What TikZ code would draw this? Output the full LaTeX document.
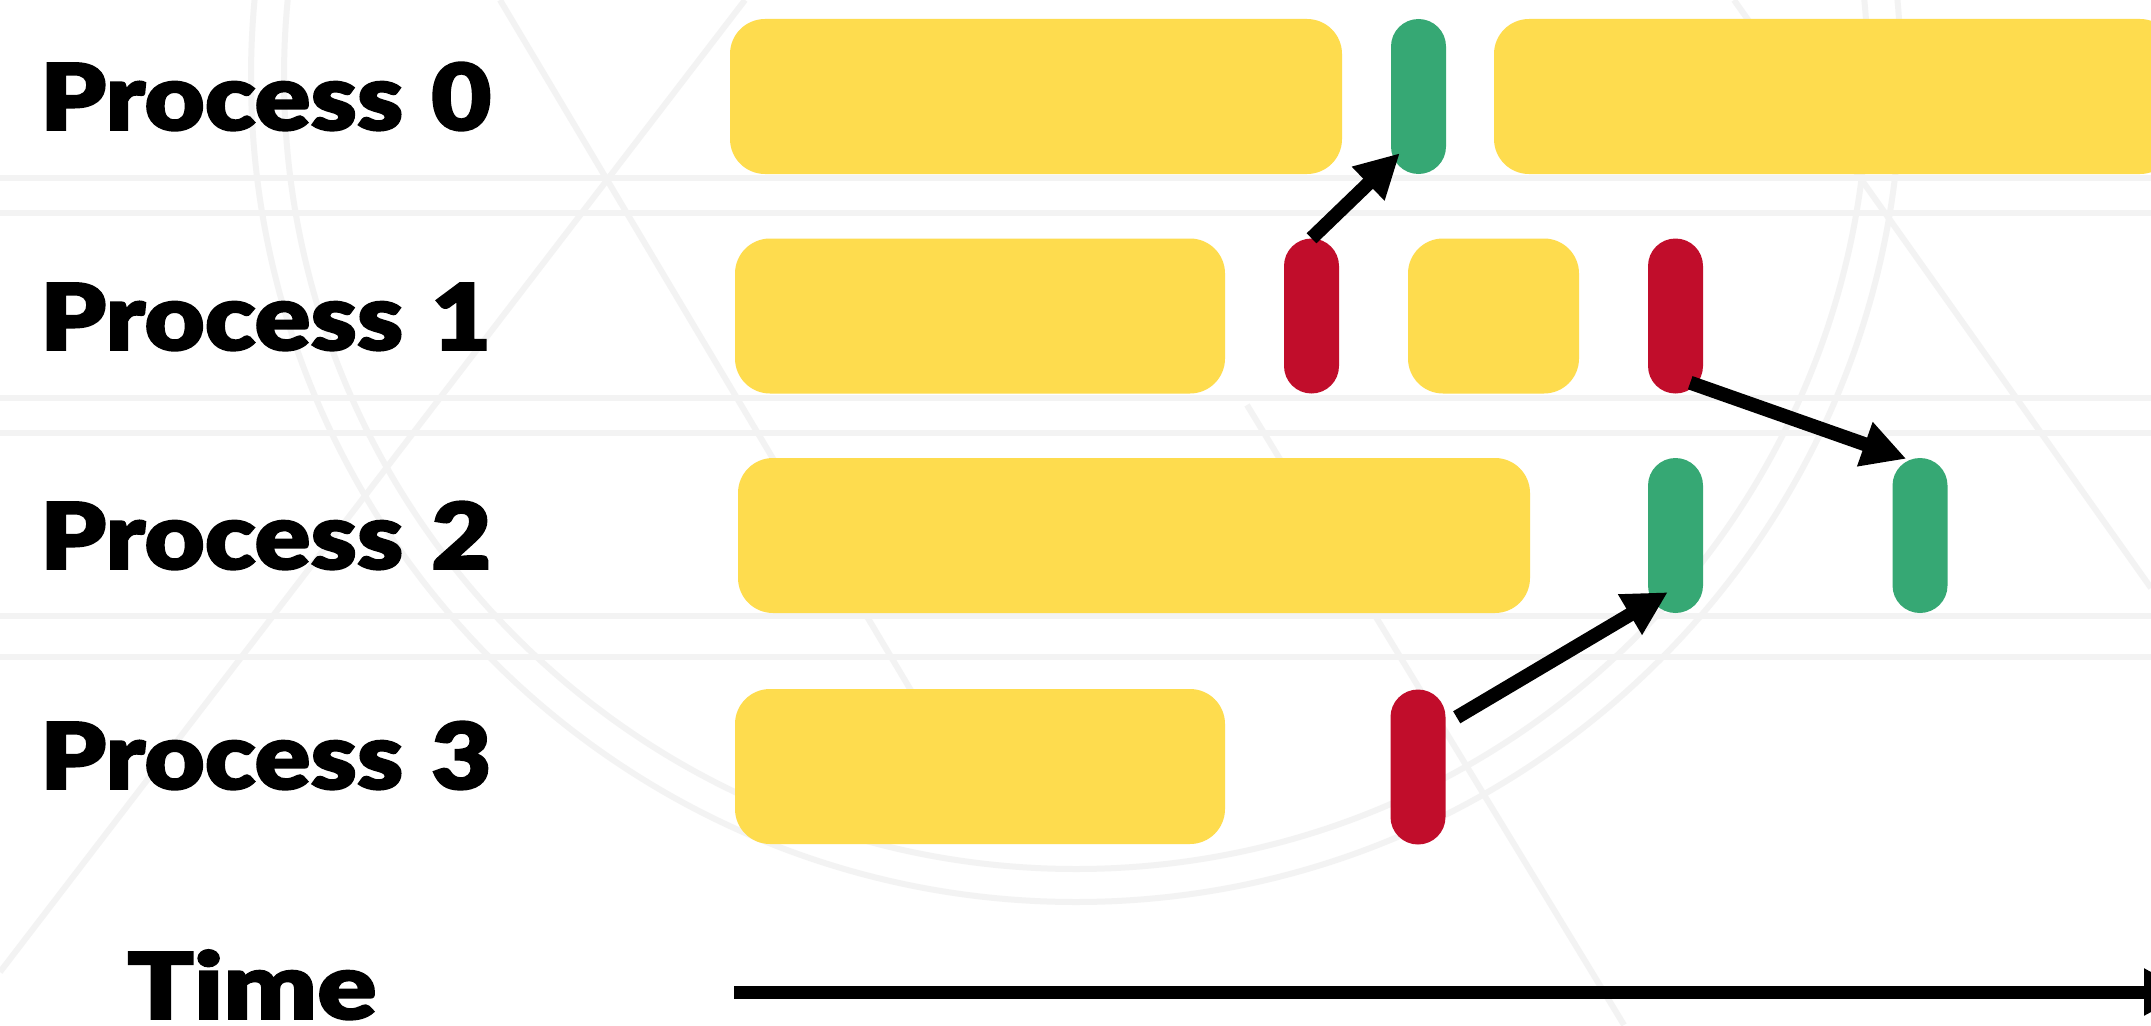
\documentclass[tikz,border=0pt]{standalone}
\usepackage{fontspec}
\newfontfamily\labfont{Lato Black}[FakeStretch=1.13, FakeBold=2]
\newfontfamily\timefont{Lato Black}[FakeStretch=1.2, FakeBold=2]
\usetikzlibrary{arrows.meta,calc}
\definecolor{workyellow}{RGB}{254,220,78}
\definecolor{recvgreen}{RGB}{54,168,116}
\definecolor{sendred}{RGB}{193,13,43}
\definecolor{wmark}{RGB}{243,243,243}
\newcommand\procname[1]{Process\kern 28pt #1}
\tikzset{
  workbox/.style={rectangle, rounded corners=35pt, fill=workyellow, draw=none, inner sep=0pt, minimum height=155pt},
  pill/.style={rectangle, rounded corners=27.5pt, draw=none, inner sep=0pt, minimum width=55pt, minimum height=155pt},
  recvpill/.style={pill, fill=recvgreen},
  sendpill/.style={pill, fill=sendred},
  msg/.style={line width=14pt, -{Triangle[length=44pt,width=44pt]}},
  label/.style={inner sep=0pt, anchor=base west, font=\labfont\fontsize{92}{100}\selectfont},
  wm/.style={draw=wmark, line width=6pt}
}
\begin{document}
\begin{tikzpicture}[x=1pt,y=-1pt]
\clip (0,0) rectangle (2151,1025);
\fill[white] (0,0) rectangle (2151,1025);
% faint watermark
\foreach \yy in {178,213,398,433,616,657} \draw[wm] (0,\yy) -- (2151,\yy);
\draw[wm] (1076,77) circle[radius=825];
\draw[wm] (1076,77) circle[radius=792];
\draw[wm] (500,0) -- (1000,840);
\draw[wm] (0,972) -- (745,0);
\draw[wm] (1734,0) -- (2151,588);
\draw[wm] (1247,405) -- (1624,1025);
% process 0
\node[workbox, minimum width=612pt] (y0a) at (1036,96.5) {};
\node[recvpill] (g0) at (1418.5,96.5) {};
\node[workbox, minimum width=681pt] (y0b) at (1834.5,96.5) {};
% process 1
\node[workbox, minimum width=490pt] (y1a) at (980,316) {};
\node[sendpill] (r1a) at (1311.5,316) {};
\node[workbox, minimum width=171pt] (y1b) at (1493.5,316) {};
\node[sendpill] (r1b) at (1675.5,316) {};
% process 2
\node[workbox, minimum width=792pt] (y2) at (1134,535.5) {};
\node[recvpill] (g2a) at (1675.5,535.5) {};
\node[recvpill] (g2b) at (1920,535.5) {};
% process 3
\node[workbox, minimum width=490pt] (y3) at (980,766.5) {};
\node[sendpill] (r3) at (1418,767) {};
% messages
\draw[msg] (r1a.north) -- ([shift={(9,-21)}]g0.south west);
\draw[msg] ([shift={(-13,-11)}]r1b.south east) -- ([shift={(14,1)}]g2b.north west);
\draw[msg] ([shift={(11,28)}]r3.north east) -- ([shift={(20,-21)}]g2a.south west);
% labels
\node[label] (l0) at (40,130) {\procname{0}};
\node[label] (l1) at (40,350) {\procname{1}};
\node[label] (l2) at (40,569) {\procname{2}};
\node[label] (l3) at (40,789) {\procname{3}};
\node[label, font=\timefont\fontsize{92}{100}\selectfont] (lt) at (127,1019) {Time};
% time axis
\coordinate (t0) at (734,992);
\coordinate (t1) at (2189,992);
\draw[line width=13pt, -{Triangle[length=45pt,width=44pt]}] (t0) -- (t1);
\end{tikzpicture}
\end{document}
